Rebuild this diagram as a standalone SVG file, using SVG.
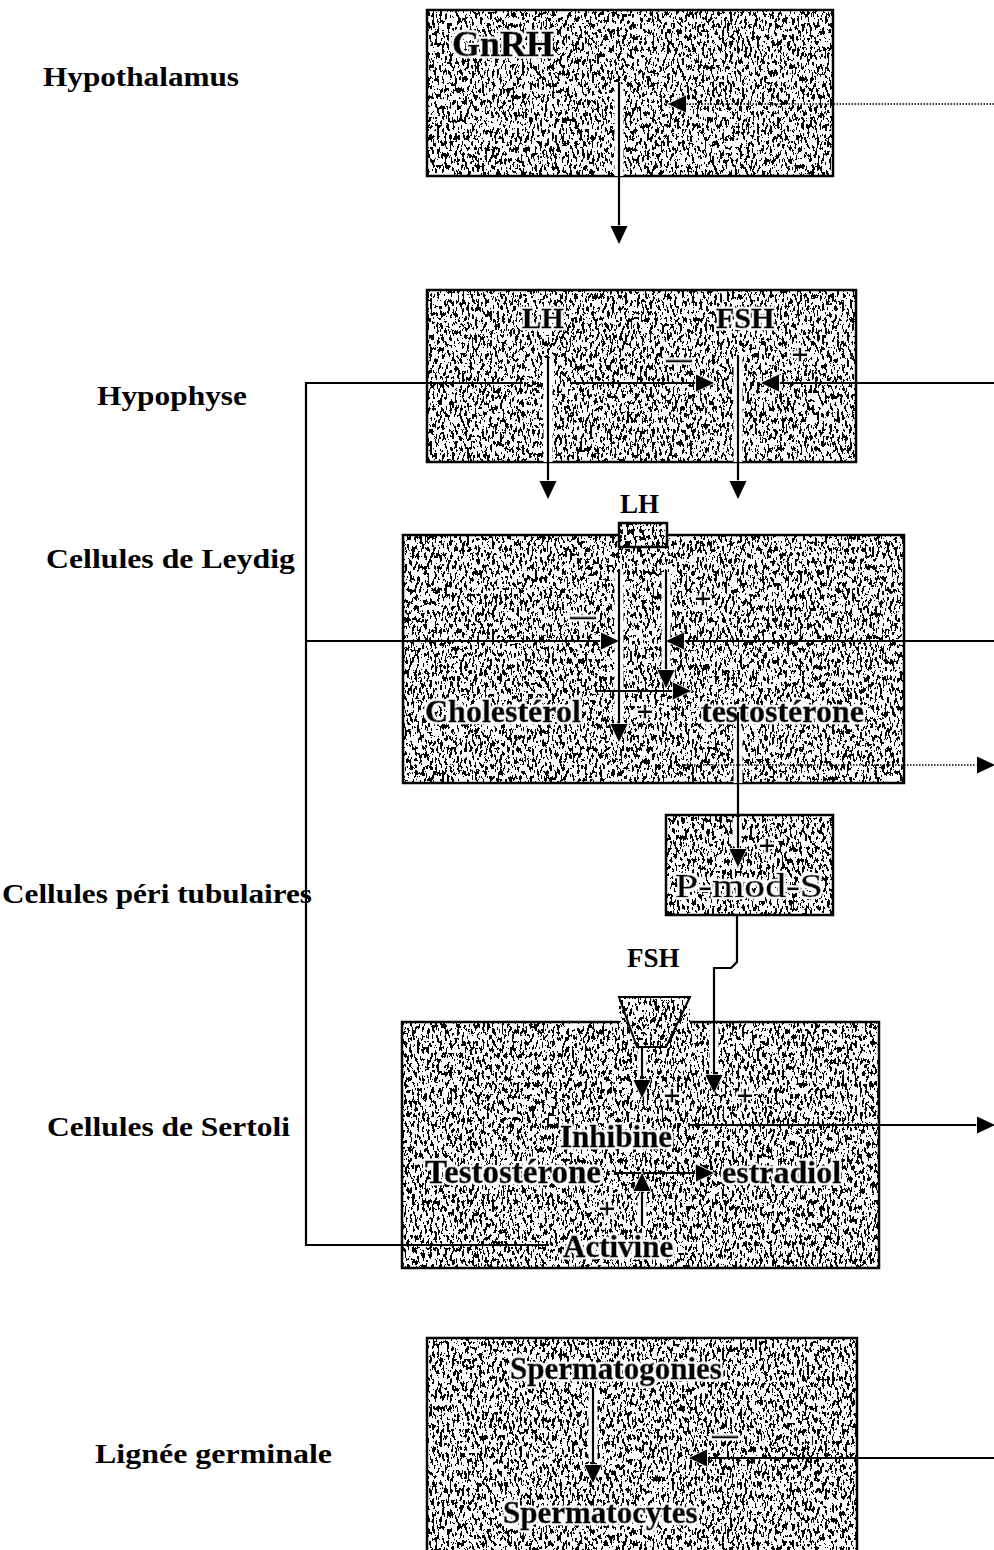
<svg xmlns="http://www.w3.org/2000/svg" width="994" height="1550" viewBox="0 0 994 1550">
<defs>
<style>
.lbl{font-family:"Liberation Serif","Times New Roman",serif;font-weight:bold;font-size:27px;fill:#000}
.t{font-family:"Liberation Serif","Times New Roman",serif;font-weight:bold;fill:#000;stroke:#000;stroke-width:0.8px;filter:url(#halo)}
.tn{font-family:"Liberation Serif","Times New Roman",serif;fill:#000;stroke:#000;stroke-width:0.6px;filter:url(#halo)}
.sign{font-family:"Liberation Serif","Times New Roman",serif;font-size:28px;fill:#000;stroke:#000;stroke-width:1.3px;text-anchor:middle;filter:url(#halo)}
.dash{font-family:"Liberation Serif","Times New Roman",serif;font-size:25px;font-weight:bold;fill:#000;stroke:#000;stroke-width:1.2px;text-anchor:middle;filter:url(#halo)}
.frame{fill:none;stroke:#000;stroke-width:2.5}
.c{fill:none;stroke:#000;stroke-width:2.2}
.halo{fill:none;stroke:#fff;stroke-width:9}
.dot{fill:none;stroke:#000;stroke-width:1.3;stroke-dasharray:1.5 1.5}
</style>
<marker id="ah" markerUnits="userSpaceOnUse" markerWidth="22" markerHeight="21" refX="19" refY="10.5" orient="auto"><path d="M2,2 L20,10.5 L2,19 z" fill="#000" stroke="#fff" stroke-width="1.5" paint-order="stroke"/></marker>
<filter id="halo" x="-20%" y="-40%" width="140%" height="180%">
<feMorphology in="SourceAlpha" operator="dilate" radius="1.8" result="d"/>
<feFlood flood-color="#fff"/>
<feComposite in2="d" operator="in" result="w"/>
<feMerge><feMergeNode in="w"/><feMergeNode in="SourceGraphic"/></feMerge>
</filter>
<filter id="tex" x="0" y="0" width="1" height="1" color-interpolation-filters="sRGB">
<feTurbulence type="fractalNoise" baseFrequency="0.4 0.17" numOctaves="3" seed="7" result="n"/>
<feColorMatrix in="n" type="matrix" values="0 0 0 0 0  0 0 0 0 0  0 0 0 0 0  1.2 0 0 0 -0.17" result="a"/>
<feComponentTransfer in="a" result="sp"><feFuncA type="discrete" tableValues="0 1"/></feComponentTransfer>
<feFlood flood-color="#fff" result="w"/>
<feMerge><feMergeNode in="w"/><feMergeNode in="sp"/></feMerge>
</filter>
</defs>
<rect width="994" height="1550" fill="#fff"/>

<g id="labels">
<text class="lbl" x="43" y="86" textLength="196" lengthAdjust="spacingAndGlyphs">Hypothalamus</text>
<text class="lbl" x="97" y="405" textLength="150" lengthAdjust="spacingAndGlyphs">Hypophyse</text>
<text class="lbl" x="46" y="568" textLength="249" lengthAdjust="spacingAndGlyphs">Cellules de Leydig</text>
<text class="lbl" x="2" y="903" textLength="310" lengthAdjust="spacingAndGlyphs">Cellules péri tubulaires</text>
<text class="lbl" x="47" y="1136" textLength="243" lengthAdjust="spacingAndGlyphs">Cellules de Sertoli</text>
<text class="lbl" x="95" y="1463" textLength="237" lengthAdjust="spacingAndGlyphs">Lignée germinale</text>
</g>

<g id="node-gnrh">
<rect x="427" y="10" width="406" height="166" filter="url(#tex)"/>
<rect class="frame" x="427" y="10" width="406" height="166"/>
<text class="t" x="452" y="56" font-size="36">GnRH</text>
</g>

<g id="node-hypophyse">
<rect x="427" y="290" width="429" height="172" filter="url(#tex)"/>
<rect class="frame" x="427" y="290" width="429" height="172"/>
<text class="t" x="522" y="328" font-size="29">LH</text>
<text class="t" x="716" y="328" font-size="30">FSH</text>
<text class="dash" x="679" y="367">—</text>
<text class="sign" x="800" y="364">+</text>
</g>

<g id="node-leydig">
<rect x="403" y="535" width="501" height="248" filter="url(#tex)"/>
<rect class="frame" x="403" y="535" width="501" height="248"/>
<text class="t" x="425" y="722" font-size="32">Cholestérol</text>
<text class="t" x="701" y="722" font-size="32">testostérone</text>
<text class="dash" x="583" y="624">—</text>
<text class="sign" x="703" y="608">+</text>
<text class="sign" x="645" y="721">+</text>
</g>

<g id="node-lh-receptor">
<text class="lbl" x="620" y="513" font-size="29">LH</text>
<rect x="619" y="523" width="48" height="24" filter="url(#tex)"/>
<rect class="frame" x="619" y="523" width="48" height="24" stroke-width="2"/>
</g>

<g id="node-pmods">
<rect x="666" y="815" width="167" height="100" filter="url(#tex)"/>
<rect class="frame" x="666" y="815" width="167" height="100"/>
<text class="sign" x="767" y="855">+</text>
<text class="tn" x="675" y="897" font-size="34" textLength="148" lengthAdjust="spacingAndGlyphs">P-mod-S</text>
</g>

<g id="node-sertoli">
<rect x="402" y="1022" width="477" height="246" filter="url(#tex)"/>
<rect class="frame" x="402" y="1022" width="477" height="246"/>
<text class="t" x="560" y="1147" font-size="31">Inhibine</text>
<text class="t" x="425" y="1183" font-size="33">Testostérone</text>
<text class="t" x="722" y="1183" font-size="32">estradiol</text>
<text class="t" x="563" y="1257" font-size="31">Activine</text>
<text class="sign" x="672" y="1105">+</text>
<text class="sign" x="745" y="1105">+</text>
<text class="sign" x="607" y="1218">+</text>
</g>

<g id="node-fsh-receptor">
<text class="lbl" x="627" y="967" font-size="29">FSH</text>
<path d="M619,997 L690,997 L666,1047 L637,1047 Z" filter="url(#tex)"/>
<path d="M619,997 L690,997 L666,1047 L637,1047 Z" fill="none" stroke="#000" stroke-width="2"/>
</g>

<g id="node-germinal">
<rect x="427" y="1338" width="430" height="220" filter="url(#tex)"/>
<rect class="frame" x="427" y="1338" width="430" height="220"/>
<text class="t" x="510" y="1379" font-size="31">Spermatogonies</text>
<text class="t" x="503" y="1523" font-size="31">Spermatocytes</text>
<text class="dash" x="725" y="1443">—</text>
</g>

<g id="connectors">
<g id="halos">
<path class="halo" d="M619,84 V176"/>
<path class="halo" d="M548,358 V462"/>
<path class="halo" d="M738,356 V462"/>
<path class="halo" d="M619,572 V722"/>
<path class="halo" d="M666,572 V670"/>
<path class="halo" d="M738,728 V783"/>
<path class="halo" d="M737,818 V846"/>
<path class="halo" d="M642,1049 V1076"/>
<path class="halo" d="M714,1024 V1072"/>
<path class="halo" d="M642,1196 V1226"/>
<path class="halo" d="M593,1388 V1462"/>
</g>
<path class="c" d="M619,82 V243" marker-end="url(#ah)"/>
<path class="dot" d="M994,104 H669" marker-end="url(#ah)"/>
<path class="c" d="M548,358 V498" marker-end="url(#ah)"/>
<path class="c" d="M738,356 V498" marker-end="url(#ah)"/>
<path class="c" d="M546,1245 H306 V383 H523"/>
<path class="c" d="M570,383 H713" marker-end="url(#ah)"/>
<path class="c" d="M994,383 H762" marker-end="url(#ah)"/>
<path class="c" d="M306,641 H618" marker-end="url(#ah)"/>
<path class="c" d="M994,641 H667" marker-end="url(#ah)"/>
<path class="c" d="M619,570 V741" marker-end="url(#ah)"/>
<path class="c" d="M666,570 V687" marker-end="url(#ah)"/>
<path class="c" d="M595,691 H690" marker-end="url(#ah)"/>
<path class="c" d="M738,712 V866" marker-end="url(#ah)"/>
<path class="dot" d="M685,765 H994" marker-end="url(#ah)"/>
<path class="c" d="M737,915 V962 L731,968 H714 V1092" marker-end="url(#ah)"/>
<path class="c" d="M642,1047 V1097" marker-end="url(#ah)"/>
<path class="c" d="M688,1125 H994" marker-end="url(#ah)"/>
<path class="c" d="M617,1173 H713" marker-end="url(#ah)"/>
<path class="c" d="M642,1226 V1174" marker-end="url(#ah)"/>
<path class="c" d="M593,1387 V1482" marker-end="url(#ah)"/>
<path class="c" d="M994,1458 H690" marker-end="url(#ah)"/>
</g>
</svg>
